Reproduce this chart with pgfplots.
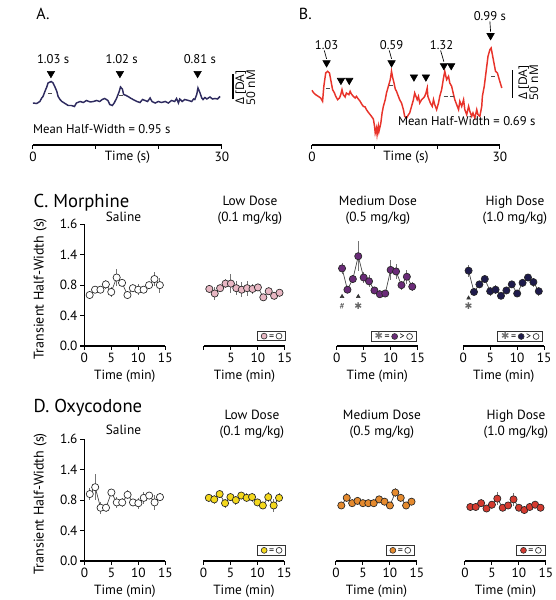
\documentclass[border=0pt]{standalone}
\usepackage{fontspec}
\setmainfont{PT Sans}
\newfontfamily\opensans{Open Sans}
\newfontfamily\dejavu{DejaVu Sans}
\usepackage{pgfplots}
\usepackage{pgfplotstable}
\pgfplotsset{compat=1.18}

\definecolor{traceA}{HTML}{2E2B5F}
\definecolor{traceB}{HTML}{E8332A}
\definecolor{pinkc}{HTML}{E8B7C3}
\definecolor{purplec}{HTML}{6A2B78}
\definecolor{navyc}{HTML}{1E1B4B}
\definecolor{yellowc}{HTML}{F4D81C}
\definecolor{orangec}{HTML}{E58A2E}
\definecolor{redc}{HTML}{D43A2F}

\pgfplotstableread{
t v
0.0 0
0.6 -1
1.1 3
1.4 10
1.6 13
1.9 23
2.2 32
2.4 40
2.9 43
3.2 40
3.5 32
3.8 23
4.0 13
4.3 7
4.6 3
5.1 -1
5.6 -5
6.1 -5
6.6 -7
6.9 0
7.5 3
8.0 1
8.5 5
9.1 2
9.6 3
10.1 5
10.6 3
11.0 7
11.4 9
11.9 5
12.2 -3
12.6 -5
12.9 0
13.3 10
13.7 23
13.9 32
14.2 28
14.4 17
14.8 15
15.1 13
15.6 9
15.9 7
16.5 3
17.0 1
17.4 7
17.8 5
18.2 3
18.6 10
18.9 3
19.4 0
19.9 3
20.4 1
21.0 3
21.5 0
22.0 5
22.5 3
22.8 9
23.1 0
23.3 8
23.7 3
24.1 7
24.7 5
25.2 3
25.5 8
25.7 7
26.0 17
26.2 30
26.5 21
26.8 10
27.0 7
27.3 11
27.6 8
28.1 12
28.5 8
28.9 9
29.3 8
29.7 13
}\tTraceA

\pgfplotstableread{
t v
0.0 16.5
0.3 11.8
0.6 8.8
1.0 5.9
1.4 2.9
1.7 -2.9
1.9 23.5
2.2 47.1
2.5 50.0
2.8 47.1
3.0 35.3
3.3 17.6
3.6 11.8
3.8 5.9
4.1 0.0
4.4 2.9
4.6 8.8
4.8 17.6
5.0 8.8
5.3 4.7
5.5 11.8
5.9 8.8
6.1 14.7
6.3 10.0
6.6 5.9
6.9 2.9
7.1 5.9
7.4 1.2
7.7 -2.9
7.9 -7.1
8.2 -11.8
8.5 -12.9
8.7 -17.6
9.0 -22.4
9.3 -26.5
9.5 -29.4
9.8 -34.1
10.0 -47.1
10.1 -58.8
10.3 -50.0
10.4 -61.8
10.6 -47.1
10.7 -55.9
11.0 -41.2
11.2 -23.5
11.4 -11.8
11.7 0.0
11.9 11.8
12.2 23.5
12.5 35.3
12.7 50.0
12.9 38.2
13.1 29.4
13.3 18.8
13.5 14.7
13.8 5.9
14.0 0.0
14.3 -5.9
14.6 -17.6
14.8 -29.4
15.1 -32.4
15.4 -26.5
15.6 -23.5
15.9 -11.8
16.2 0.0
16.4 11.8
16.6 5.9
16.8 0.0
17.0 5.9
17.2 -5.9
17.5 0.0
17.8 2.9
18.0 5.9
18.2 11.8
18.4 20.6
18.5 5.9
18.7 0.0
18.9 -5.9
19.2 -11.8
19.4 0.0
19.6 -8.8
19.9 -17.6
20.2 -5.9
20.4 5.9
20.7 17.6
21.0 38.2
21.2 50.0
21.5 35.3
21.8 41.2
22.0 29.4
22.3 23.5
22.6 8.8
22.8 0.0
23.1 -8.8
23.4 -17.6
23.6 -2.9
23.9 -11.8
24.2 0.0
24.4 -17.6
24.7 -26.5
25.0 -11.8
25.2 -20.6
25.5 -29.4
25.7 -23.5
26.0 -32.4
26.3 -17.6
26.5 -26.5
26.8 -29.4
27.1 -11.8
27.2 5.9
27.5 23.5
27.7 41.2
27.9 58.8
28.1 76.5
28.4 88.2
28.6 91.2
28.8 79.4
29.0 67.6
29.3 50.0
29.6 47.1
29.9 35.3
30.3 20.6
}\tTraceB

\pgfplotstableread{
t v e
1 0.67 0.03
2 0.74 0.04
3 0.74 0.04
4 0.81 0.06
5 0.71 0.07
6 0.90 0.11
7 0.83 0.04
8 0.67 0.04
9 0.76 0.05
10 0.74 0.07
11 0.74 0.04
12 0.80 0.04
13 0.88 0.09
14 0.80 0.10
}\tCsal

\pgfplotstableread{
t v e
1 0.75 0.04
2 0.69 0.08
3 0.76 0.04
4 0.82 0.06
5 0.82 0.12
6 0.76 0.09
7 0.74 0.10
8 0.76 0.10
9 0.75 0.06
10 0.77 0.05
11 0.64 0.05
12 0.72 0.05
13 0.66 0.05
14 0.70 0.05
}\tClow

\pgfplotstableread{
t v e
1 1.02 0.07
2 0.74 0.04
3 0.88 0.05
4 1.18 0.20
5 0.90 0.07
6 0.85 0.08
7 0.73 0.05
8 0.68 0.05
9 0.69 0.05
10 1.00 0.13
11 0.98 0.10
12 0.80 0.06
13 0.91 0.09
14 0.78 0.06
}\tCmed

\pgfplotstableread{
t v e
1 0.99 0.08
2 0.71 0.04
3 0.81 0.05
4 0.88 0.05
5 0.72 0.06
6 0.74 0.06
7 0.66 0.04
8 0.73 0.04
9 0.81 0.05
10 0.69 0.05
11 0.83 0.05
12 0.90 0.05
13 0.84 0.06
14 0.72 0.06
}\tChigh

\pgfplotstableread{
t v e
1 0.88 0.08
2 0.97 0.17
3 0.70 0.08
4 0.70 0.05
5 0.90 0.05
6 0.77 0.07
7 0.77 0.06
8 0.87 0.06
9 0.77 0.05
10 0.76 0.07
11 0.83 0.08
12 0.86 0.05
13 0.77 0.10
14 0.84 0.05
}\tDsal

\pgfplotstableread{
t v e
1 0.83 0.05
2 0.81 0.06
3 0.88 0.05
4 0.76 0.06
5 0.84 0.05
6 0.80 0.06
7 0.86 0.05
8 0.83 0.06
9 0.84 0.06
10 0.77 0.05
11 0.73 0.05
12 0.84 0.07
13 0.73 0.08
14 0.83 0.06
}\tDlow

\pgfplotstableread{
t v e
1 0.73 0.05
2 0.83 0.06
3 0.76 0.05
4 0.79 0.04
5 0.76 0.04
6 0.76 0.04
7 0.76 0.04
8 0.81 0.04
9 0.78 0.04
10 0.73 0.04
11 0.90 0.06
12 0.83 0.05
13 0.73 0.05
14 0.78 0.04
}\tDmed

\pgfplotstableread{
t v e
1 0.71 0.04
2 0.71 0.04
3 0.76 0.05
4 0.69 0.05
5 0.74 0.05
6 0.82 0.09
7 0.70 0.04
8 0.73 0.04
9 0.81 0.09
10 0.70 0.04
11 0.67 0.04
12 0.71 0.04
13 0.74 0.04
14 0.70 0.04
}\tDhigh

\pgfplotsset{
  base/.style={anchor=south west, scale only axis, clip=false, enlargelimits=false,
    axis line style={line width=0.8pt}, tick style={line width=0.8pt, black},
    tick align=outside, major tick length=3pt,
    ticklabel style={font=\fontsize{10}{11}\selectfont, inner sep=2pt},
    /pgf/number format/assume math mode=true},
  panelbase/.style={base, width=60.75pt, height=91.3pt, xmin=0, xmax=15, ymin=0, ymax=1.6,
    xtick={0,5,10,15},
    xlabel={Time (min)},
    xlabel style={font=\fontsize{10}{12}\selectfont, at={(axis description cs:0.5,0)}, anchor=center, yshift=-23pt}},
  panel/.style={panelbase, axis x line*=bottom, axis y line=none, ytick=\empty},
  salpanel/.style={panelbase, axis x line*=bottom, axis y line*=left, ytick={0,0.4,0.8,1.2,1.6},
    yticklabels={0.0,0.4,0.8,1.4,1.6},
    ylabel={Transient Half-Width (s)},
    ylabel style={font=\fontsize{10.5}{12}\selectfont, at={(axis description cs:-0.545,0.47)}, anchor=center}},
  dotplot/.style={black!75, line width=0.5pt, mark=*, mark size=2.7pt,
    mark options={fill=#1, draw=black!85, line width=0.5pt, solid},
    error bars/.cd, y dir=both, y explicit, error mark=none,
    error bar style={line width=0.7pt, black!55}},
  tracepanel/.style={base, xmin=0, xmax=30, axis x line*=bottom, axis y line=none,
    ytick=\empty, xtick={0,10,20,30}, xticklabels={0,,,30}},
  arrowmk/.style={only marks, mark=triangle*, mark size=3.2pt,
    mark options={rotate=180, fill=black, draw=black}},
  sigmk/.style={only marks, mark=triangle*, mark size=1.6pt,
    mark options={fill=black!80, draw=black!80}}
}

\begin{document}
\newsavebox\dotwhite\sbox\dotwhite{\tikz\draw[black!80,line width=0.5pt,fill=white] (0,0) circle (2.2pt);}
\newsavebox\dotpink\sbox\dotpink{\tikz\draw[black!80,line width=0.5pt,fill=pinkc] (0,0) circle (2.2pt);}
\newsavebox\dotpurple\sbox\dotpurple{\tikz\draw[black!80,line width=0.5pt,fill=purplec] (0,0) circle (2.2pt);}
\newsavebox\dotnavy\sbox\dotnavy{\tikz\draw[black!80,line width=0.5pt,fill=navyc] (0,0) circle (2.2pt);}
\newsavebox\dotyellow\sbox\dotyellow{\tikz\draw[black!80,line width=0.5pt,fill=yellowc] (0,0) circle (2.2pt);}
\newsavebox\dotorange\sbox\dotorange{\tikz\draw[black!80,line width=0.5pt,fill=orangec] (0,0) circle (2.2pt);}
\newsavebox\dotred\sbox\dotred{\tikz\draw[black!80,line width=0.5pt,fill=redc] (0,0) circle (2.2pt);}
\begin{tikzpicture}
\useasboundingbox (0,0) rectangle (398.25pt,450pt);
\tikzset{lg/.style={draw=black!80, line width=0.6pt, inner xsep=2.5pt, inner ysep=1pt, anchor=east, font=\fontsize{7.5}{8}\selectfont}}

% panel letters
\node[anchor=base west, font=\fontsize{12}{14}\selectfont] at (5pt,435pt) {A.};
\node[anchor=base west, font=\fontsize{12}{14}\selectfont] at (202pt,435pt) {B.};
\node[anchor=base west, font=\fontsize{14}{17}\selectfont] at (3pt,294pt) {C. Morphine};
\node[anchor=base west, font=\fontsize{14}{17}\selectfont] at (3pt,140.25pt) {D. Oxycodone};

% ---------- A trace ----------
\begin{axis}[tracepanel, at={(6pt,341.25pt)}, width=141.75pt, height=69pt, ymin=-84, ymax=100]
\addplot[traceA, line width=1.1pt] table[x=t, y=v] {\tTraceA};
\addplot[black!70, densely dashed, line width=0.5pt] coordinates {(2.4,20) (3.4,20)};
\addplot[black!70, densely dashed, line width=0.5pt] coordinates {(13.6,15) (14.3,15)};
\addplot[arrowmk] coordinates {(2.86,59) (13.81,59) (26.14,59)};
\node[font=\fontsize{9.5}{10}\selectfont] at (axis cs:3.2,87) {1.03 s};
\node[font=\fontsize{9.5}{10}\selectfont] at (axis cs:14.1,87) {1.02 s};
\node[font=\fontsize{9.5}{10}\selectfont] at (axis cs:26.5,87) {0.81 s};
\draw[line width=1.2pt] (axis cs:31.8,7) -- (axis cs:31.8,57);
\node[rotate=90, font=\opensans\fontsize{9}{10}\selectfont] at (axis cs:33.0,31) {Δ [DA]};
\node[rotate=90, font=\opensans\fontsize{9}{10}\selectfont] at (axis cs:34.6,31) {50 nM};
\node[anchor=west, font=\fontsize{9.5}{11}\selectfont, inner sep=0pt] at (axis cs:0,-53) {Mean Half-Width = 0.95 s};
\node[font=\fontsize{10}{12}\selectfont] at (axis cs:15,-84) [yshift=-9.5pt] {Time (s)};
\end{axis}

% ---------- B trace ----------
\begin{axis}[tracepanel, at={(215.25pt,341.25pt)}, width=141pt, height=76.5pt, ymin=-80, ymax=100]
\addplot[traceB, line width=1.1pt] table[x=t, y=v] {\tTraceB};
\addplot[black!70, densely dashed, line width=0.5pt] coordinates {(2.2,20) (3.1,20)};
\addplot[black!70, densely dashed, line width=0.5pt] coordinates {(12.3,26) (13.0,26)};
\addplot[black!70, densely dashed, line width=0.5pt] coordinates {(21.0,6) (22.6,6)};
\addplot[black!70, densely dashed, line width=0.5pt] coordinates {(28.6,42) (29.3,42)};
\addplot[arrowmk] coordinates {(2.34,65) (12.71,65) (21.06,60) (22.23,60) (28.51,113) (4.63,34) (5.96,34) (16.28,40) (18.19,40)};
\addplot[black, line width=0.5pt] coordinates {(1.97,87) (2.34,72)};
\addplot[black, line width=0.5pt] coordinates {(12.34,87) (12.71,72)};
\addplot[black, line width=0.5pt] coordinates {(20.53,87) (21.06,67)};
\addplot[black, line width=0.5pt] coordinates {(28.40,138) (28.51,120)};
\node[font=\fontsize{9.5}{10}\selectfont] at (axis cs:2.34,97) {1.03};
\node[font=\fontsize{9.5}{10}\selectfont] at (axis cs:12.71,97) {0.59};
\node[font=\fontsize{9.5}{10}\selectfont] at (axis cs:20.69,97) {1.32};
\node[font=\fontsize{9.5}{10}\selectfont] at (axis cs:28.4,147) {0.99 s};
\draw[line width=1.2pt] (axis cs:32.0,3) -- (axis cs:32.0,53);
\node[rotate=90, font=\opensans\fontsize{9}{10}\selectfont] at (axis cs:33.8,30) {Δ [DA]};
\node[rotate=90, font=\opensans\fontsize{9}{10}\selectfont] at (axis cs:35.4,30) {50 nM};
\node[anchor=west, font=\fontsize{9.5}{11}\selectfont, inner sep=0pt] at (axis cs:13.7,-38) {Mean Half-Width = 0.69 s};
\node[font=\fontsize{10}{12}\selectfont] at (axis cs:15,-80) [yshift=-9.5pt] {Time (s)};
\end{axis}

% ---------- C row ----------
\begin{axis}[salpanel, at={(44.5pt,190.5pt)}]
\addplot[dotplot=white] table[x=t, y=v, y error=e] {\tCsal};
\end{axis}
\begin{axis}[panel, at={(134.25pt,190.5pt)}, xticklabels={,5,10,15}]
\addplot[dotplot=pinkc] table[x=t, y=v, y error=e] {\tClow};
\node[lg] at (axis cs:15.2,0.13) {\usebox\dotpink\,=\,\usebox\dotwhite};
\end{axis}
\begin{axis}[panel, at={(233.8pt,190.5pt)}]
\addplot[dotplot=purplec] table[x=t, y=v, y error=e] {\tCmed};
\addplot[sigmk] coordinates {(1,0.65) (4,0.65)};
\node[font=\fontsize{7}{8}\selectfont, black!70] at (axis cs:1,0.52) {\#};
\node[font=\dejavu\fontsize{7}{8}\selectfont, black!60] at (axis cs:4,0.52) {✱};
\node[lg] at (axis cs:14.8,0.13) {{\dejavu\color{black!55}✱}\,=\,\usebox\dotpurple\,>\,\usebox\dotwhite};
\end{axis}
\begin{axis}[panel, at={(328.7pt,190.5pt)}]
\addplot[dotplot=navyc] table[x=t, y=v, y error=e] {\tChigh};
\addplot[sigmk] coordinates {(1,0.63)};
\node[font=\dejavu\fontsize{7}{8}\selectfont, black!60] at (axis cs:1,0.52) {✱};
\node[lg] at (axis cs:14.8,0.13) {{\dejavu\color{black!55}✱}\,=\,\usebox\dotnavy\,>\,\usebox\dotwhite};
\end{axis}

% ---------- D row ----------
\begin{axis}[salpanel, at={(44.6pt,29.25pt)}]
\addplot[dotplot=white] table[x=t, y=v, y error=e] {\tDsal};
\end{axis}
\begin{axis}[panel, at={(133.9pt,29.25pt)}]
\addplot[dotplot=yellowc] table[x=t, y=v, y error=e] {\tDlow};
\node[lg] at (axis cs:15.3,0.14) {\usebox\dotyellow\,=\,\usebox\dotwhite};
\end{axis}
\begin{axis}[panel, at={(233.25pt,29.25pt)}]
\addplot[dotplot=orangec] table[x=t, y=v, y error=e] {\tDmed};
\node[lg] at (axis cs:14.6,0.14) {\usebox\dotorange\,=\,\usebox\dotwhite};
\end{axis}
\begin{axis}[panel, at={(330pt,29.25pt)}]
\addplot[dotplot=redc] table[x=t, y=v, y error=e] {\tDhigh};
\node[lg] at (axis cs:14.9,0.14) {\usebox\dotred\,=\,\usebox\dotwhite};
\end{axis}

% titles
\node[font=\fontsize{10}{12}\selectfont] at (73.9pt,287.25pt) {Saline};
\node[font=\fontsize{10}{12}\selectfont, align=center] at (168.75pt,292.5pt) {Low Dose\\(0.1 mg/kg)};
\node[font=\fontsize{10}{12}\selectfont, align=center] at (264.75pt,292.5pt) {Medium Dose\\(0.5 mg/kg)};
\node[font=\fontsize{10}{12}\selectfont, align=center] at (367.5pt,292.5pt) {High Dose\\(1.0 mg/kg)};
\node[font=\fontsize{10}{12}\selectfont] at (73.9pt,127.5pt) {Saline};
\node[font=\fontsize{10}{12}\selectfont, align=center] at (170.25pt,131.6pt) {Low Dose\\(0.1 mg/kg)};
\node[font=\fontsize{10}{12}\selectfont, align=center] at (267.75pt,131.6pt) {Medium Dose\\(0.5 mg/kg)};
\node[font=\fontsize{10}{12}\selectfont, align=center] at (368.25pt,131.6pt) {High Dose\\(1.0 mg/kg)};
\end{tikzpicture}
\end{document}
